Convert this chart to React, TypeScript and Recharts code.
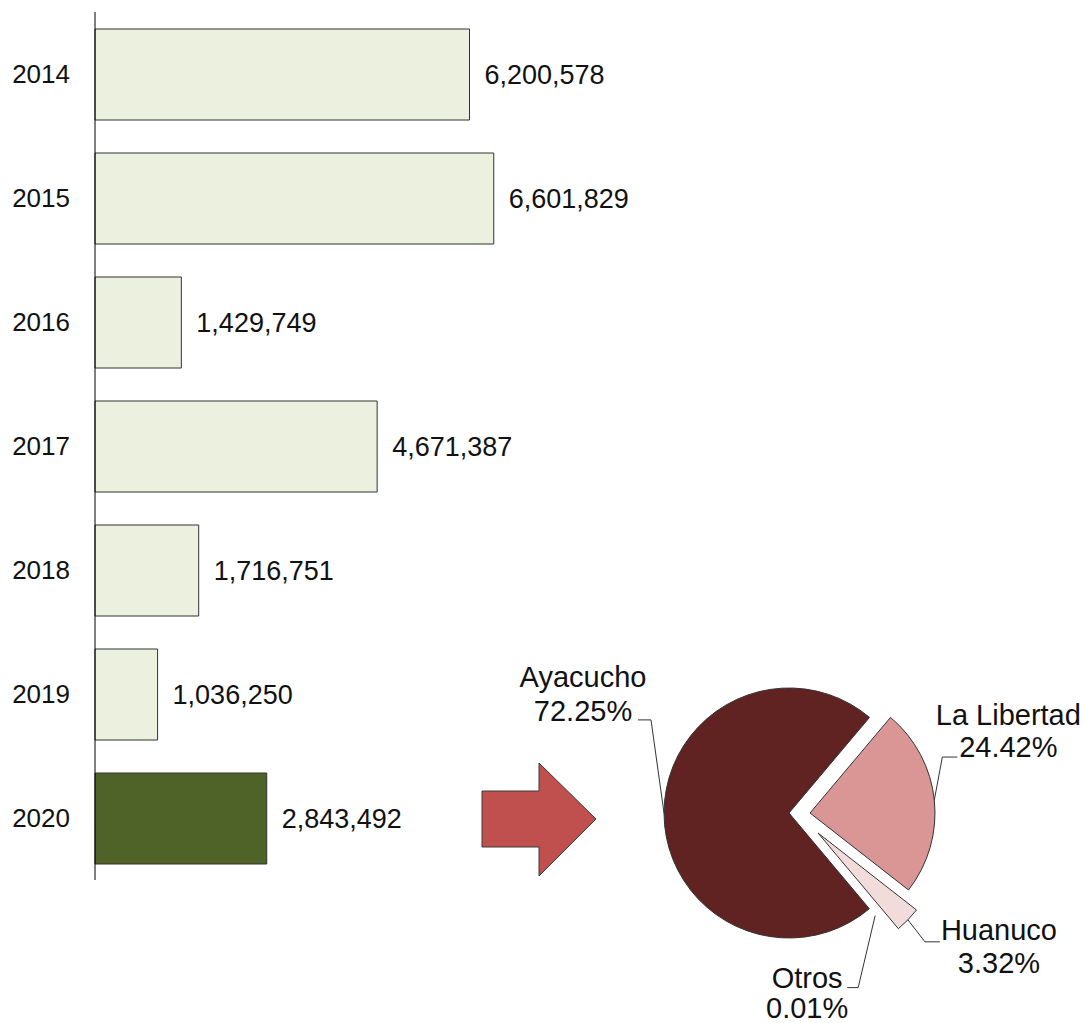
import React from 'react';
import { BarChart, Bar, XAxis, YAxis, Cell, LabelList, PieChart, Pie, Customized } from 'recharts';

// ---- data ----
const years = ['2014', '2015', '2016', '2017', '2018', '2019', '2020'];
const amounts = [6200578, 6601829, 1429749, 4671387, 1716751, 1036250, 2843492];
const regions = ['Ayacucho', 'La Libertad', 'Huanuco', 'Otros'];
const shares = [72.25, 24.42, 3.32, 0.01];

const barData = years.map((y, i) => ({ year: y, value: amounts[i] }));
const pieData = regions.map((r, i) => ({ name: r, value: shares[i] }));

// ---- styles ----
const FONT = '"Liberation Sans", Arial, sans-serif';
const BAR_FILL = '#EBF1DE';
const BAR_HIGHLIGHT = '#4F6228';
const SLICE_COLORS: Record<string, string> = {
  Ayacucho: '#612322',
  'La Libertad': '#D99694',
  Huanuco: '#F2DCDB',
  Otros: '#F2DCDB',
};

// label layout relative to the slice's arc point
type LabelLayout = { extra: number; elbow: [number, number]; end: [number, number]; tx: number; ty: [number, number] };
const labelLayout: Record<string, LabelLayout> = {
  Ayacucho: { extra: 0, elbow: [-13, -93], end: [-26, -93], tx: -81, ty: [-126, -92] },
  'La Libertad': { extra: 0, elbow: [8, -43], end: [23, -43], tx: 74, ty: [-75, -43] },
  Huanuco: { extra: 0, elbow: [17, 22], end: [32, 22], tx: 91, ty: [20, 53] },
  Otros: { extra: 9, elbow: [-17, 72], end: [-28, 72], tx: -68, ty: [72, 102] },
};

const RAD = Math.PI / 180;

const makeLabel = (show: string[]) => (props: any) => {
  const { cx, cy, midAngle, outerRadius, index } = props;
  const name = regions[index];
  if (!show.includes(name)) return <g />;
  const lay = labelLayout[name];
  const r = outerRadius + lay.extra;
  const px = cx + r * Math.cos(-midAngle * RAD);
  const py = cy + r * Math.sin(-midAngle * RAD);
  const pts = `${px},${py} ${px + lay.elbow[0]},${py + lay.elbow[1]} ${px + lay.end[0]},${py + lay.end[1]}`;
  return (
    <g>
      <polyline points={pts} fill="none" stroke="#333" strokeWidth={1} />
      <text x={px + lay.tx} y={py + lay.ty[0]} textAnchor="middle" fontSize={29} fontFamily={FONT} fill="#111">
        {name}
      </text>
      <text x={px + lay.tx} y={py + lay.ty[1]} textAnchor="middle" fontSize={29} fontFamily={FONT} fill="#111">
        {shares[index].toFixed(2) + '%'}
      </text>
    </g>
  );
};

const Arrow = () => (
  <polygon
    points="482,791 539,791 539,763 596,819 539,876 539,847 482,847"
    fill="#C0504D"
    stroke="#3a3a3a"
    strokeWidth={1}
  />
);

const pieLayers = [
  { cx: 789, cy: 813, visible: 'Ayacucho', labels: ['Ayacucho', 'Otros'] },
  { cx: 810, cy: 813, visible: 'La Libertad', labels: ['La Libertad'] },
  { cx: 818, cy: 833, visible: 'Huanuco', labels: ['Huanuco'] },
];

export default function App() {
  return (
    <div style={{ position: 'absolute', left: 0, top: 0, width: 1084, height: 1023, fontFamily: FONT, background: '#fff' }}>
      <div style={{ position: 'absolute', left: 0, top: 0 }}>
        <BarChart
          width={1084}
          height={1023}
          data={barData}
          layout="vertical"
          margin={{ top: 12, right: 385, bottom: 143, left: 0 }}
        >
          <XAxis type="number" hide domain={[0, 10000000]} />
          <YAxis
            type="category"
            dataKey="year"
            width={95}
            interval={0}
            axisLine={{ stroke: '#000', strokeWidth: 1 }}
            tickLine={false}
            tickSize={0}
            tickMargin={25}
            tick={{ fill: '#111', fontSize: 26, fontFamily: FONT }}
          />
          <Bar dataKey="value" barSize={91} stroke="#333" strokeWidth={1} isAnimationActive={false}>
            {barData.map((d, i) => (
              <Cell key={d.year} fill={i === barData.length - 1 ? BAR_HIGHLIGHT : BAR_FILL} />
            ))}
            <LabelList
              dataKey="value"
              position="right"
              offset={15}
              formatter={(v: any) => Number(v).toLocaleString('en-US')}
              style={{ fill: '#111', fontSize: 27, fontFamily: FONT }}
            />
          </Bar>
        </BarChart>
      </div>
      <div style={{ position: 'absolute', left: 0, top: 0 }}>
        <PieChart width={1084} height={1023} margin={{ top: 0, right: 0, bottom: 0, left: 0 }}>
          <Customized component={Arrow} />
          {pieLayers.map((layer) => (
            <Pie
              key={layer.visible}
              data={pieData}
              dataKey="value"
              nameKey="name"
              cx={layer.cx}
              cy={layer.cy}
              outerRadius={125}
              startAngle={-50}
              endAngle={-410}
              isAnimationActive={false}
              labelLine={false}
              label={makeLabel(layer.labels)}
            >
              {pieData.map((d) => (
                <Cell
                  key={d.name}
                  fill={d.name === layer.visible ? SLICE_COLORS[d.name] : 'none'}
                  stroke={d.name === layer.visible ? '#333' : 'none'}
                  strokeWidth={1}
                />
              ))}
            </Pie>
          ))}
        </PieChart>
      </div>
    </div>
  );
}
